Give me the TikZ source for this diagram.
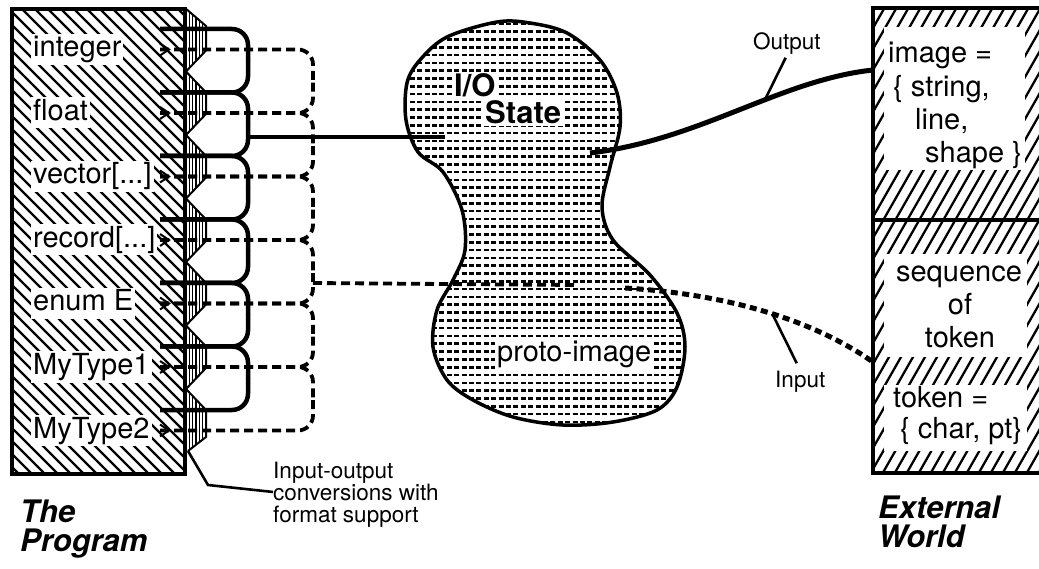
\documentclass[tikz,border=0pt]{standalone}
\usepackage{fontspec}
\setmainfont{TeX Gyre Heros}
\usetikzlibrary{calc}
\begin{document}
\begin{tikzpicture}[x=1pt,y=-1pt,
  lbl/.style={font=\fontsize{29}{33}\selectfont, fill=white, inner sep=2pt, text height=21pt, text depth=6pt, anchor=west},
  txt/.style={font=\fontsize{29}{33}\selectfont, inner sep=0pt, anchor=base west},
  boldtxt/.style={font=\fontsize{31}{35}\selectfont\bfseries, fill=white, inner sep=2pt, anchor=base west},
  small/.style={font=\fontsize{22.5}{24}\selectfont, inner sep=0pt, anchor=base west},
  title/.style={font=\fontsize{31}{35}\selectfont\bfseries\itshape, inner sep=0pt, anchor=base west},
  frame/.style={line width=3.5pt},
  hatchline/.style={line width=2.3pt},
  heavy/.style={line width=4.5pt},
  dashbus/.style={line width=3.8pt, dash pattern=on 9pt off 5pt},
  inputline/.style={line width=5pt, dash pattern=on 7pt off 4.5pt},
  leader/.style={line width=2.6pt},
  panel/.style={fill=white, draw=none, inner sep=0pt, anchor=north west},
  blobshape/.style={insert path={plot[smooth cycle, tension=0.55] coordinates {
    (497,22) (530,23) (567,33) (600,60) (617,93) (620,127) (610,167) (602,207)
    (613,240) (650,275) (677,313) (685,347) (677,387) (657,410) (613,422)
    (563,425) (513,417) (473,400) (447,380) (433,347) (437,310) (453,280)
    (465,250) (462,210) (443,172) (418,152) (406,120) (407,83) (420,60) (447,37)}}},
]
\useasboundingbox (0,0) rectangle (1039,569);
\clip (0,0) rectangle (1039,569);
\fill[white] (0,0) rectangle (1039,569);

% ---------- The Program: hatched box with its data types ----------
\begin{scope}
  \clip (12,9) rectangle (185,474);
  \foreach \i in {-38,...,15} \draw[hatchline] ({\i*13},0) -- ++(500,500);
\end{scope}
\draw[frame] (12,9) rectangle (185,474);

\node[lbl] (p0) at (31,49.5) {integer};
\node[lbl] (p1) at (31,113) {float};
\node[lbl] (p2) at (31,176.5) {vector[...]};
\node[lbl] (p3) at (31,240) {record[...]};
\node[lbl] (p4) at (31,303.5) {enum E};
\node[lbl] (p5) at (31,367) {MyType1};
\node[lbl] (p6) at (31,430.5) {MyType2};

% conversion band with vertical stripes and chevron edge
\begin{scope}
  \clip (185,8) -- (206,26) -- (206,50.5) -- (186,71.5) -- (206,92.5) -- (206,114)
    -- (186,135) -- (206,156) -- (206,177.5) -- (186,198.5) -- (206,219.5) -- (206,241)
    -- (186,262) -- (206,283) -- (206,304.5) -- (186,325.5) -- (206,346.5) -- (206,368)
    -- (186,389) -- (206,410) -- (206,437) -- (188,451) -- (185,451) -- cycle;
  \foreach \x in {186,189.3,...,208} \draw[line width=1.3pt] (\x,0) -- (\x,460);
\end{scope}
\draw[line width=2pt] (185,8) -- (206,26) -- (206,50.5) -- (186,71.5) -- (206,92.5) -- (206,114)
    -- (186,135) -- (206,156) -- (206,177.5) -- (186,198.5) -- (206,219.5) -- (206,241)
    -- (186,262) -- (206,283) -- (206,304.5) -- (186,325.5) -- (206,346.5) -- (206,368)
    -- (186,389) -- (206,410) -- (206,437) -- (188,451);
\coordinate (bandfoot) at (188,451);

% solid bus (output side)
\coordinate (sbus) at (248,0);
\foreach \i in {0,...,6} {
  \pgfmathsetmacro\ys{29+63.5*\i}
  \coordinate (sp\i) at (160,\ys);
  \ifnum\i>0 \draw[heavy, rounded corners=16] (sp\i) -| ($(sp\i -| sbus)+(0,-32)$); \fi
  \ifnum\i<6 \draw[heavy, rounded corners=16] (sp\i) -| ($(sp\i -| sbus)+(0,32)$); \fi
}
\coordinate (sjoin) at (248,137);

% dashed bus (input side), with a small chevron where each type enters the band
\coordinate (dstart) at (160,0);
\coordinate (dbus) at (313,0);
\foreach \i in {0,...,6} {
  \coordinate (dp\i) at (p\i.east -| dstart);
  \draw[line width=2pt] ($(dp\i)+(0,-6)$) -- ($(dp\i)+(9,0)$) -- ($(dp\i)+(0,6)$);
  \ifnum\i>0 \draw[dashbus, rounded corners=15] (dp\i) -| ($(dp\i -| dbus)+(0,-32)$); \fi
  \ifnum\i<6 \draw[dashbus, rounded corners=15] (dp\i) -| ($(dp\i -| dbus)+(0,32)$); \fi
}
\coordinate (djoin) at (313,283);

% ---------- I/O State blob ----------
\begin{scope}
  \clip[blobshape];
  \foreach \r in {0,...,54}
    \draw[line width=2.6pt, dash pattern=on 5pt off 2.4pt] (395,{24+7.8*\r}) -- (700,{24+7.8*\r});
\end{scope}
\draw[line width=3.5pt, blobshape];
\node[boldtxt] (io1) at (452,97) {I/O};
\node[boldtxt] (io2) at (483,124) {State};
\node[txt, fill=white, inner sep=2pt] (proto) at (495,362) {proto-image};

\coordinate (blobW) at (445,137);
\coordinate (blobIn) at (575,285);
\coordinate (blobIn2) at (625,288);
\coordinate (blobOut) at (590,153);

% ---------- External World box ----------
\begin{scope}
  \clip (873,8) rectangle (1060,473);
  \foreach \i in {-26,...,16} \draw[hatchline] ({873+\i*12},490) -- ++(300,-525);
\end{scope}
\node[panel, minimum width=141pt, minimum height=143pt] (imgpanel) at (884,27) {};
\node[panel, minimum width=143pt, minimum height=103pt] (seqpanel) at (884,254) {};
\node[panel, minimum width=143pt, minimum height=66pt] (tokpanel) at (884,385) {};
\draw[frame] (1060,8) -- (873,8) -- (873,473) -- (1060,473);
\draw[frame] (873,220) -- (1060,220);
\coordinate (extOut) at (873,70);
\coordinate (extIn) at (873,362);

\node[txt] (img1) at (888,63) {image =};
\node[txt] (img2) at (893,97) {\{ string,};
\node[txt] (img3) at (915,130) {line,};
\node[txt] (img4) at (925,163) {shape \}};
\node[txt, anchor=base] (seq1) at (959,282) {sequence};
\node[txt, anchor=base] (seq2) at (960,315) {of};
\node[txt, anchor=base] (seq3) at (960,348) {token};
\node[txt] (tok1) at (893,407) {token =};
\node[txt] (tok2) at (900,438) {\{ char, pt\}};

% ---------- connectors ----------
\draw[heavy] (sjoin) -- (blobW);
\draw[dashbus] (djoin) -- (blobIn);
\draw[line width=5pt] (blobOut) .. controls (700,140) and (780,80) .. (extOut) coordinate[pos=0.6] (outTick);
\draw[inputline] (blobIn2) .. controls (740,295) and (820,325) .. (extIn) coordinate[pos=0.5] (inTick);

\node[small] (outlbl) at (753,50) {Output};
\node[small] (inlbl) at (775,387) {Input};
\draw[leader, shorten >=3pt] (outTick) -- (outlbl.south);
\draw[leader, shorten >=8pt] (inTick) -- (inlbl.north);

\node[small] (conv1) at (273,478) {Input-output};
\node[small] (conv2) at (273,500) {conversions with};
\node[small] (conv3) at (273,522) {format support};
\draw[leader] (bandfoot) -- (208,485) -- (conv2.west);

% ---------- titles ----------
\node[title] (prog1) at (20,522) {The};
\node[title] (prog2) at (20,551) {Program};
\node[title] (ext1) at (878,518) {External};
\node[title] (ext2) at (878,547) {World};
\end{tikzpicture}
\end{document}
